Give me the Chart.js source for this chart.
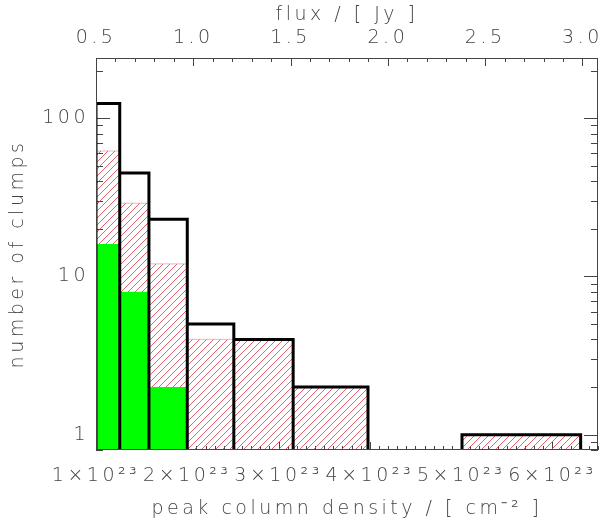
<!DOCTYPE html>
<html>
<head>
<meta charset="utf-8">
<script src="https://cdn.jsdelivr.net/npm/chart.js@4"></script>
<style>
    body { margin: 0; background: #fff; }
    canvas { display: block; }
</style>
</head>
<body>
<canvas id="chart" width="600" height="524"></canvas>
<script>
// bin edges of peak column density, in units of 1e23 cm^-2
const binEdges = [1.0, 1.26, 1.58, 2.0, 2.51, 3.16, 3.98, 5.01, 6.31];
// number of clumps per bin
const allClumps = [124, 45, 23, 5, 4, 2, 0, 1];
const hatchedClumps = [62, 29, 12, 4, 4, 2, 0, 1];
const greenClumps = [16, 8, 2, 0, 0, 0, 0, 0];

const densityTicks = [1, 2, 3, 4, 5, 6];
const densityLabels = ['1×10²³', '2×10²³', '3×10²³', '4×10²³', '5×10²³', '6×10²³'];
const fluxTicks = [0.5, 1.0, 1.5, 2.0, 2.5, 3.0];
const fluxLabels = ['0.5', '1.0', '1.5', '2.0', '2.5', '3.0'];
const countTicks = [1, 10, 100];
const countLabels = ['1', '10', '100'];

const BASE = 0.5; // below the y axis minimum, so bin bottoms get clipped
const TEXT = '#444';
const FONT = { family: "'DejaVu Sans', sans-serif", size: 19, weight: '200' };

function histPoints(counts, gaps) {
    const pts = [];
    counts.forEach((c, i) => {
        if (!c) return;
        const x0 = binEdges[i];
        const x1 = binEdges[i + 1];
        pts.push({ x: x0, y: BASE }, { x: x0, y: c }, { x: x1, y: c }, { x: x1, y: BASE });
        if (gaps) pts.push({ x: x1, y: null });
    });
    return pts;
}

function makeHatch(ctx) {
    const size = 7;
    const c = document.createElement('canvas');
    c.width = size;
    c.height = size;
    const g = c.getContext('2d');
    g.strokeStyle = 'rgba(225, 60, 75, 0.8)';
    g.lineWidth = 1;
    g.beginPath();
    g.moveTo(0, size); g.lineTo(size, 0);
    g.moveTo(-1, 1); g.lineTo(1, -1);
    g.moveTo(size - 1, size + 1); g.lineTo(size + 1, size - 1);
    g.stroke();
    return ctx.createPattern(c, 'repeat');
}

// no extra room for edge labels, the plot box is fixed
function fixHorizontal(height) {
    return s => {
        s.height = height;
        s.paddingLeft = 0;
        s.paddingRight = 0;
    };
}

// IDL-style inward ticks and the plot frame
const frameTicks = {
    id: 'frameTicks',
    beforeDatasetsDraw(chart) {
        const { ctx, chartArea: a, scales } = chart;
        ctx.save();
        ctx.strokeStyle = '#444';
        ctx.lineWidth = 1;
        ctx.beginPath();
        for (let i = 10; i <= 65; i++) {
            const px = Math.round(scales.x.getPixelForValue(i / 10)) + 0.5;
            const len = i % 10 === 0 ? 8 : 4;
            ctx.moveTo(px, a.bottom); ctx.lineTo(px, a.bottom - len);
        }
        for (let i = 5; i <= 30; i++) {
            const px = Math.round(scales.x2.getPixelForValue(i / 10)) + 0.5;
            const len = i % 5 === 0 ? 8 : 4;
            ctx.moveTo(px, a.top); ctx.lineTo(px, a.top + len);
        }
        for (let d = -1; d <= 2; d++) {
            for (let m = 1; m <= 9; m++) {
                const v = m * Math.pow(10, d);
                if (v < scales.y.min || v > scales.y.max) continue;
                const py = Math.round(scales.y.getPixelForValue(v)) + 0.5;
                const len = m === 1 ? 14 : 7;
                ctx.moveTo(a.left, py); ctx.lineTo(a.left + len, py);
                ctx.moveTo(a.right, py); ctx.lineTo(a.right - len, py);
            }
        }
        ctx.stroke();
        ctx.restore();
    },
    afterDatasetsDraw(chart) {
        const { ctx, chartArea: a } = chart;
        ctx.save();
        ctx.strokeStyle = '#444';
        ctx.lineWidth = 1;
        ctx.strokeRect(a.left + 0.5, a.top + 0.5, a.right - a.left - 1, a.bottom - a.top - 1);
        ctx.restore();
    }
};

// wide letter spacing like the IDL vector font
const spacing = {
    id: 'spacing',
    beforeUpdate(chart) { chart.ctx.letterSpacing = '3.5px'; },
    beforeDraw(chart) { chart.ctx.letterSpacing = '3.5px'; }
};

const canvas = document.getElementById('chart');
const hatch = makeHatch(canvas.getContext('2d'));

new Chart(canvas, {
    type: 'line',
    data: {
        datasets: [
            {
                data: histPoints(allClumps, true),
                borderColor: '#000',
                borderWidth: 3,
                borderJoinStyle: 'miter',
                fill: false,
                order: 0
            },
            {
                data: histPoints(greenClumps, false),
                borderColor: 'rgba(0,0,0,0)',
                borderWidth: 1,
                backgroundColor: '#00ff00',
                fill: 'start',
                order: 1
            },
            {
                data: histPoints(hatchedClumps, false),
                borderColor: 'rgba(230, 110, 120, 0.5)',
                borderWidth: 1,
                backgroundColor: hatch,
                fill: 'start',
                order: 2
            }
        ]
    },
    options: {
        responsive: false,
        animation: false,
        layout: { padding: { left: 0, top: 0, right: 2, bottom: 0 } },
        elements: { point: { radius: 0 }, line: { tension: 0 } },
        plugins: { legend: { display: false }, tooltip: { enabled: false } },
        scales: {
            x: {
                type: 'linear',
                position: 'bottom',
                min: 1,
                max: 6.5,
                afterFit: fixHorizontal(74),
                afterBuildTicks: s => { s.ticks = densityTicks.map(v => ({ value: v })); },
                grid: { display: false, drawTicks: false },
                border: { display: false },
                ticks: {
                    autoSkip: false,
                    maxRotation: 0,
                    padding: 15,
                    color: TEXT,
                    font: FONT,
                    callback: (v, i) => densityLabels[i]
                },
                title: {
                    display: true,
                    text: 'peak column density / [ cm⁻² ]',
                    color: TEXT,
                    font: FONT,
                    padding: { top: 0, bottom: 4 }
                }
            },
            x2: {
                type: 'linear',
                position: 'top',
                min: 0.5,
                max: 3.08,
                afterFit: fixHorizontal(58),
                afterBuildTicks: s => { s.ticks = fluxTicks.map(v => ({ value: v })); },
                grid: { display: false, drawTicks: false },
                border: { display: false },
                ticks: {
                    autoSkip: false,
                    maxRotation: 0,
                    padding: 9,
                    color: TEXT,
                    font: FONT,
                    callback: (v, i) => fluxLabels[i]
                },
                title: {
                    display: true,
                    text: 'flux / [ Jy ]',
                    color: TEXT,
                    font: FONT,
                    padding: { top: 4, bottom: 0 }
                }
            },
            y: {
                type: 'logarithmic',
                position: 'left',
                min: 0.8,
                max: 240,
                afterFit: s => {
                    s.width = 96;
                    s.paddingTop = 0;
                    s.paddingBottom = 0;
                },
                afterBuildTicks: s => { s.ticks = countTicks.map(v => ({ value: v })); },
                grid: { display: false, drawTicks: false },
                border: { display: false },
                ticks: {
                    autoSkip: false,
                    padding: 7,
                    color: TEXT,
                    font: FONT,
                    callback: (v, i) => countLabels[i]
                },
                title: {
                    display: true,
                    text: 'number of clumps',
                    color: TEXT,
                    font: FONT,
                    padding: { top: 7, bottom: 0 }
                }
            }
        }
    },
    plugins: [frameTicks, spacing]
});
</script>
</body>
</html>
